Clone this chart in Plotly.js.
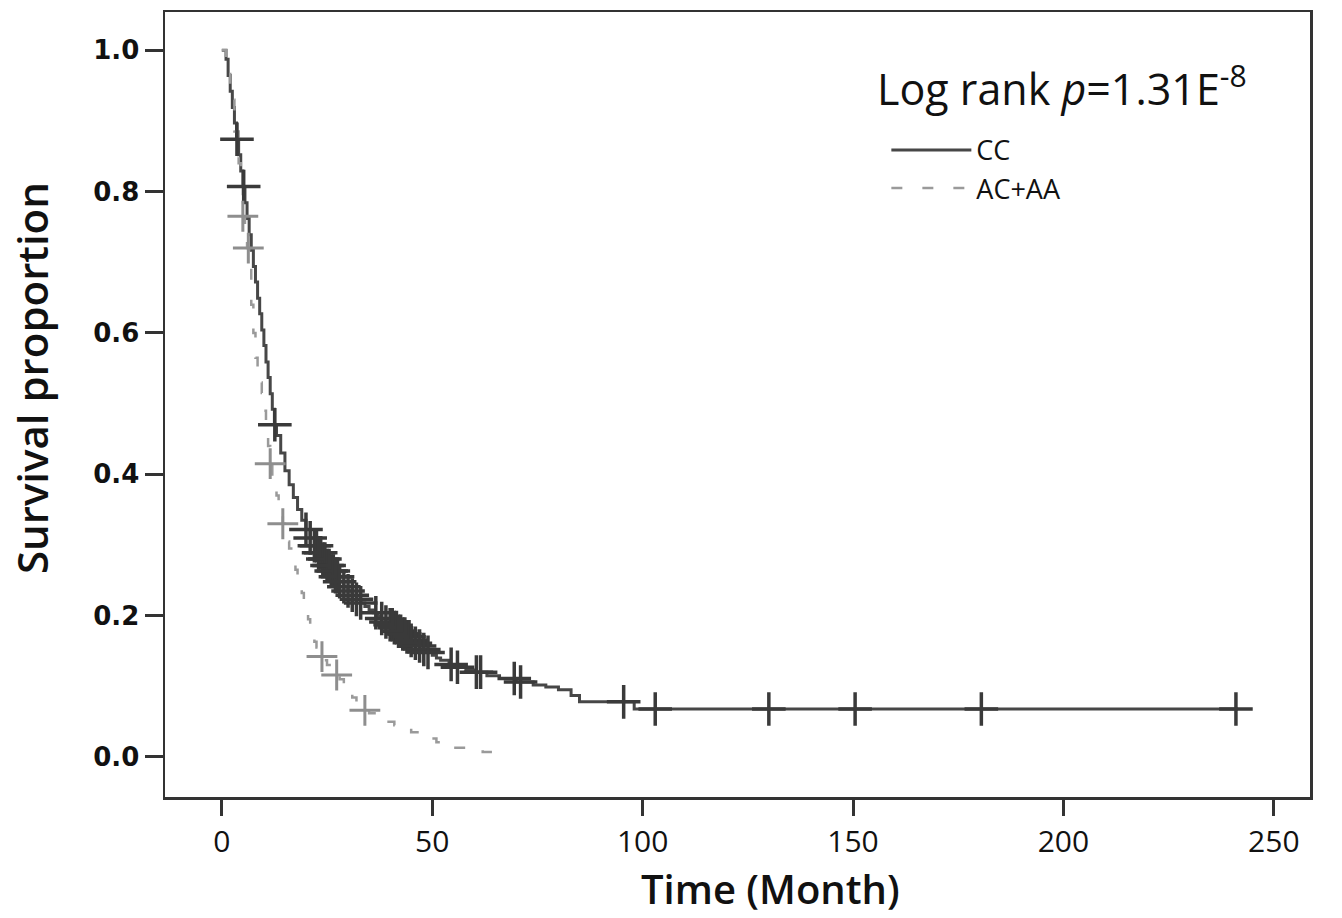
<!DOCTYPE html>
<html>
<head>
<meta charset="utf-8">
<script src="https://cdn.plot.ly/plotly-3.0.1.min.js"></script>
<style>html,body{margin:0;padding:0;background:#fff;}#chart{width:1342px;height:918px;}</style>
</head>
<body>
<div id="chart"></div>
<script>
// Kaplan-Meier step curves (time in months, survival proportion)
const ccTime = [0, 1, 1.5, 2, 2.5, 3, 3.5, 4, 4.5, 5, 5.5, 6, 6.5, 7, 7.5, 8, 8.5, 9, 9.5, 10, 10.5, 11, 11.5, 12, 12.5, 13, 14, 15, 16, 17, 18, 19, 20, 21, 22, 23, 24, 25, 26, 27, 28, 29, 30, 31, 32, 33, 34, 35, 36, 37, 38, 39, 40, 41, 42, 43, 44, 45, 46, 47, 48, 49, 50, 51, 52, 54, 56, 58, 60, 63, 66, 70, 74, 77, 80, 83, 85, 98, 241.5];
const ccSurv = [1.0, 0.987, 0.964, 0.942, 0.919, 0.897, 0.874, 0.852, 0.829, 0.807, 0.784, 0.762, 0.739, 0.717, 0.694, 0.672, 0.649, 0.627, 0.604, 0.582, 0.559, 0.537, 0.514, 0.492, 0.47, 0.455, 0.43, 0.405, 0.385, 0.367, 0.35, 0.335, 0.322, 0.31, 0.299, 0.289, 0.28, 0.271, 0.263, 0.255, 0.248, 0.241, 0.235, 0.229, 0.223, 0.218, 0.213, 0.208, 0.204, 0.2, 0.196, 0.191, 0.187, 0.183, 0.178, 0.174, 0.17, 0.165, 0.161, 0.157, 0.152, 0.148, 0.144, 0.14, 0.137, 0.131, 0.127, 0.123, 0.12, 0.115, 0.111, 0.106, 0.102, 0.099, 0.095, 0.087, 0.078, 0.068, 0.068];
const ccCensor = [3.6, 5.2, 12.6, 20, 21, 22, 22.5, 23, 23.5, 24, 24.5, 25, 25.5, 26, 26.5, 27, 27.5, 28, 29, 30, 31, 32, 33, 36.6, 38, 39, 40, 40.5, 41, 41.5, 42, 42.5, 43, 43.5, 44, 44.5, 45, 46, 47, 48, 49, 54.5, 56, 60.5, 61.5, 69.5, 71, 95.5, 103, 130, 150.5, 180.5, 241];

const acTime = [0, 1, 2, 3, 4, 4.5, 5, 5.5, 6, 6.5, 7, 7.5, 8, 8.5, 9, 9.5, 10, 10.5, 11, 11.5, 12, 12.5, 13, 13.5, 14, 14.5, 15, 15.5, 16, 16.5, 17, 17.5, 18, 18.5, 19, 19.5, 20, 20.5, 21, 21.5, 22, 22.5, 23, 23.5, 24, 25, 26, 27, 28, 29, 30, 31, 32, 33, 34, 35, 37, 39, 41, 43, 45, 47, 49, 51, 53, 55, 58, 62, 66];
const acSurv = [1.0, 0.975, 0.93, 0.885, 0.84, 0.81, 0.765, 0.745, 0.72, 0.695, 0.64, 0.6, 0.565, 0.545, 0.53, 0.515, 0.49, 0.465, 0.44, 0.415, 0.395, 0.38, 0.37, 0.36, 0.345, 0.33, 0.318, 0.305, 0.295, 0.285, 0.277, 0.265, 0.255, 0.243, 0.232, 0.22, 0.207, 0.195, 0.183, 0.172, 0.163, 0.155, 0.148, 0.142, 0.137, 0.13, 0.123, 0.116, 0.11, 0.1, 0.092, 0.084, 0.076, 0.07, 0.066, 0.062, 0.056, 0.05, 0.045, 0.04, 0.035, 0.031, 0.026, 0.021, 0.016, 0.013, 0.01, 0.007, 0.007];
const acCensor = [5.0, 6.3, 11.5, 14.5, 23.8, 27.3, 34];

const xTicks = [0, 50, 100, 150, 200, 250];
const yTicks = [0.0, 0.2, 0.4, 0.6, 0.8, 1.0];
const yTickText = ['0.0', '0.2', '0.4', '0.6', '0.8', '1.0'];
const seriesNames = ['CC', 'AC+AA'];

function survAt(times, surv, t) {
  let s = surv[0];
  for (let i = 0; i < times.length; i++) { if (times[i] <= t) s = surv[i]; }
  return s;
}

const ccColor = '#474747', acColor = '#9a9a9a';

const traces = [
  {x: ccTime, y: ccSurv, mode: 'lines', name: seriesNames[0], line: {shape: 'hv', color: ccColor, width: 3}},
  {x: acTime, y: acSurv, mode: 'lines', name: seriesNames[1], line: {shape: 'hv', color: acColor, width: 2.5, dash: '11px,20px'}},
  {x: ccCensor, y: ccCensor.map(t => survAt(ccTime, ccSurv, t)), mode: 'markers', showlegend: false, hoverinfo: 'skip',
   marker: {symbol: 'cross-thin', size: 24, color: '#3a3a3a', line: {color: '#3a3a3a', width: 3.5}}},
  {x: acCensor, y: acCensor.map(t => survAt(acTime, acSurv, t)), mode: 'markers', showlegend: false, hoverinfo: 'skip',
   marker: {symbol: 'cross-thin', size: 22, color: '#8e8e8e', line: {color: '#8e8e8e', width: 3}}}
];

const layout = {
  width: 1342, height: 918,
  margin: {l: 165, r: 32, t: 12, b: 121},
  paper_bgcolor: '#fff', plot_bgcolor: '#fff',
  showlegend: true,
  legend: {x: 0.63, y: 0.855, xanchor: 'left', yanchor: 'top', bgcolor: 'rgba(0,0,0,0)',
           font: {family: 'Open Sans', size: 27, color: '#111'}, itemwidth: 80},
  xaxis: {
    range: [-13.5, 258.6], tickvals: xTicks, ticktext: xTicks.map(String),
    showgrid: false, zeroline: false, showline: true, mirror: true, linecolor: '#333', linewidth: 2.5,
    ticks: 'outside', ticklen: 16, tickwidth: 3, tickcolor: '#333',
    tickfont: {family: 'Open Sans', size: 30, color: '#111'}
  },
  yaxis: {
    range: [-0.0566, 1.054], tickvals: yTicks, ticktext: yTickText,
    showgrid: false, zeroline: false, showline: true, mirror: true, linecolor: '#333', linewidth: 2.5,
    ticks: 'outside', ticklen: 18, tickwidth: 3, tickcolor: '#333',
    tickfont: {family: 'DejaVu Sans', size: 26, color: '#111', weight: 'bold'}
  },
  annotations: [
    {xref: 'paper', yref: 'paper', x: 0.62, y: 0.905, xanchor: 'left', yanchor: 'middle', showarrow: false,
     text: 'Log rank <i>p</i>=1.31E<sup>-8</sup>',
     font: {family: 'Open Sans', size: 43, color: '#111'}},
    {xref: 'paper', yref: 'paper', x: 0.529, y: -0.1525, xanchor: 'center', yanchor: 'bottom', showarrow: false,
     borderpad: 0, text: 'Time (Month)',
     font: {family: 'Open Sans', size: 40, color: '#111', weight: 600}},
    {xref: 'paper', yref: 'paper', x: -0.116, y: 0.534, xanchor: 'center', yanchor: 'middle', showarrow: false,
     textangle: -90, text: 'Survival proportion',
     font: {family: 'Open Sans', size: 42, color: '#111', weight: 600}}
  ]
};

Plotly.newPlot('chart', traces, layout, {displayModeBar: false, staticPlot: true});
</script>
</body>
</html>
